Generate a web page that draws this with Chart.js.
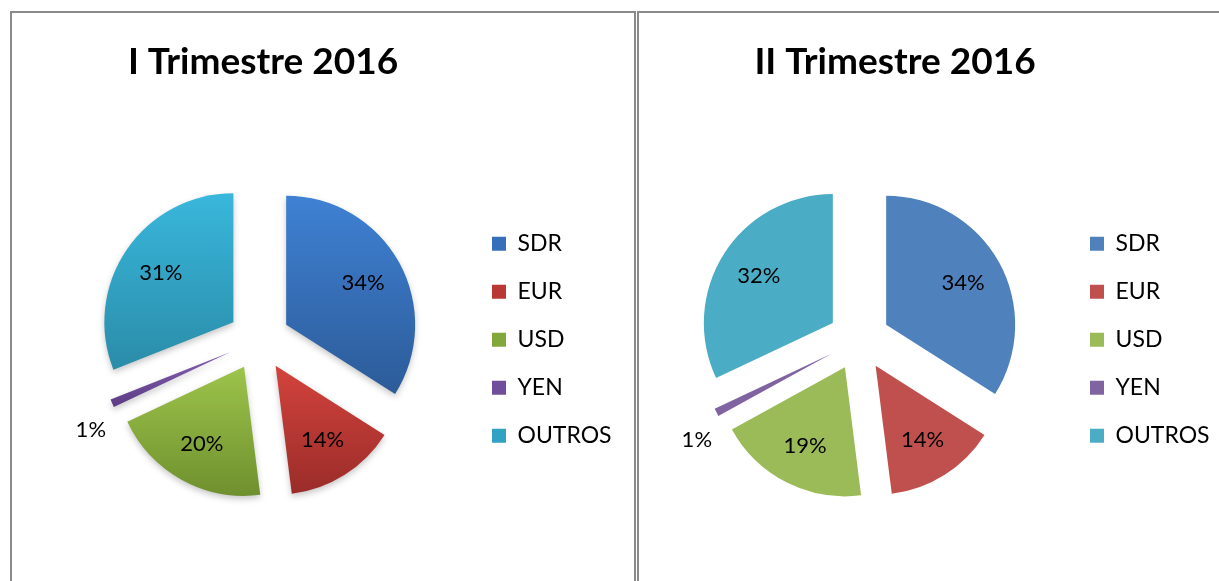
<!DOCTYPE html>
<html>
<head>
<meta charset="utf-8">
<script src="https://cdn.jsdelivr.net/npm/chart.js@4.4.1/dist/chart.umd.min.js"></script>
<style>
  html, body { margin: 0; padding: 0; background: #fff; overflow: hidden; width: 1219px; height: 581px; }
  .panel { position: absolute; top: 11px; border: 2px solid #8a8a8a; border-bottom: none; height: 600px; }
  #p1 { left: 10px; width: 622px; }
  #p2 { left: 637px; width: 700px; }
  canvas { position: absolute; }
  #c1 { left: 12px; top: 13px; }
  #c2 { left: 639px; top: 13px; }
</style>
</head>
<body>
<div class="panel" id="p1"></div>
<div class="panel" id="p2"></div>
<canvas id="c1" width="622" height="568"></canvas>
<canvas id="c2" width="580" height="568"></canvas>
<script>
// ---- data ----
const categories = ['SDR', 'EUR', 'USD', 'YEN', 'OUTROS'];
const q1Values = [34, 14, 20, 1, 31];
const q2Values = [34, 14, 19, 1, 32];
const chartTitles = ['I Trimestre 2016', 'II Trimestre 2016'];

// ---- styles ----
const flatColors = ['#4F81BD', '#C0504D', '#9BBB59', '#8064A2', '#4BACC6'];
const gradColors = [
  ['#3F81D4', '#2C5B98'],
  ['#D4433D', '#9A2C29'],
  ['#9DC44B', '#6F902E'],
  ['#8562B0', '#5C3B85'],
  ['#39B7DC', '#2A8CA8']
];
const gradMid = ['#3670BA', '#B93833', '#82A83C', '#714E9C', '#31A2C3'];

const LEGEND_FONT = 23, LEGEND_BOX = 14, LEGEND_PAD = 25;

const explodePlugin = {
  id: 'explode',
  beforeDatasetDraw(chart, args, opts) {
    const ctx = chart.ctx;
    const d = opts.distance || 0;
    args.meta.data.forEach((arc, i) => {
      const p = arc.getProps(['x', 'y', 'startAngle', 'endAngle', 'outerRadius'], true);
      const mid = (p.startAngle + p.endAngle) / 2;
      ctx.save();
      ctx.translate(Math.cos(mid) * d, Math.sin(mid) * d);
      const saved = arc.options;
      if (opts.gradients) {
        const ys = [p.y, p.y + Math.sin(p.startAngle) * p.outerRadius, p.y + Math.sin(p.endAngle) * p.outerRadius];
        for (const a of [-Math.PI / 2, Math.PI / 2, 3 * Math.PI / 2]) {
          if (a > p.startAngle && a < p.endAngle) ys.push(p.y + Math.sin(a) * p.outerRadius);
        }
        const top = Math.min(...ys), bot = Math.max(...ys);
        const g = ctx.createLinearGradient(0, top, 0, bot);
        g.addColorStop(0, opts.gradients[i][0]);
        g.addColorStop(1, opts.gradients[i][1]);
        arc.options = Object.assign({}, saved, { backgroundColor: g });
      }
      if (opts.shadow) {
        ctx.shadowColor = 'rgba(0,0,0,0.22)';
        ctx.shadowBlur = 6;
        ctx.shadowOffsetY = 3;
      }
      arc.draw(ctx);
      arc.options = saved;
      ctx.restore();
    });
    return false;
  },
  afterDatasetsDraw(chart, args, opts) {
    const ctx = chart.ctx;
    const d = opts.distance || 0;
    const meta = chart.getDatasetMeta(0);
    const vals = chart.data.datasets[0].data;
    const total = vals.reduce((a, b) => a + b, 0);
    ctx.save();
    ctx.font = '22px Lato';
    ctx.fillStyle = '#000';
    ctx.textAlign = 'center';
    ctx.textBaseline = 'middle';
    meta.data.forEach((arc, i) => {
      const p = arc.getProps(['x', 'y', 'startAngle', 'endAngle', 'outerRadius'], true);
      const mid = (p.startAngle + p.endAngle) / 2;
      const ax = p.x + Math.cos(mid) * d, ay = p.y + Math.sin(mid) * d;
      const pct = Math.round(vals[i] / total * 100);
      let lx, ly;
      if (pct >= 3) {
        lx = ax + Math.cos(mid) * p.outerRadius * 0.68;
        ly = ay + Math.sin(mid) * p.outerRadius * 0.68;
      } else {
        const a = mid - 0.1;
        lx = ax + Math.cos(a) * p.outerRadius * 1.24;
        ly = ay + Math.sin(a) * p.outerRadius * 1.24;
      }
      ctx.fillText(pct + '%', lx, ly);
    });
    ctx.restore();
  }
};

// invisible left layout box that shifts the plot area (pie) relative to the title
function makeSpacer(width) {
  return {
    id: 'spacer',
    beforeInit(chart) {
      const box = {
        position: 'left', weight: 5000, fullSize: false,
        options: { display: true },
        left: 0, top: 0, right: 0, bottom: 0, width: 0, height: 0,
        isHorizontal() { return false; },
        update(maxWidth, maxHeight) { this.width = width; this.height = maxHeight; },
        draw() {}
      };
      Chart.layouts.addBox(chart, box);
    }
  };
}

// legend width as Chart.js computes it
const mctx = document.createElement('canvas').getContext('2d');
mctx.font = LEGEND_FONT + 'px Lato';
const maxText = Math.max(...categories.map(c => mctx.measureText(c).width));
const legendW = LEGEND_PAD + LEGEND_BOX + LEGEND_FONT / 2 + maxText + 10;

function makePie(id, title, values, cfg) {
  const W = document.getElementById(id).width;
  const legendLeft = cfg.boxX - LEGEND_PAD;
  const chartLeft = 2 * cfg.pieCx - legendLeft;
  const rightEdge = legendLeft + legendW;
  const padR = W - rightEdge;
  const padL = 2 * cfg.titleCx - rightEdge;
  const spacer = chartLeft - padL;
  return new Chart(document.getElementById(id), {
    type: 'pie',
    data: {
      labels: categories,
      datasets: [{
        data: values,
        backgroundColor: cfg.colors,
        borderWidth: 0,
        offset: 0,
        hoverOffset: 0
      }]
    },
    options: {
      responsive: false,
      devicePixelRatio: 1,
      animation: false,
      events: [],
      radius: 129,
      layout: { padding: { left: padL, right: padR, top: 0, bottom: 6 } },
      plugins: {
        title: {
          display: true,
          text: title,
          color: '#000',
          fullSize: true,
          font: { family: 'Lato', size: 37, weight: 'bold' },
          padding: { top: 27, bottom: 20 }
        },
        legend: {
          position: 'right',
          fullSize: false,
          labels: {
            boxWidth: LEGEND_BOX,
            boxHeight: LEGEND_BOX,
            padding: LEGEND_PAD,
            color: '#000',
            textAlign: 'left',
            font: { family: 'Lato', size: LEGEND_FONT }
          }
        },
        tooltip: { enabled: false },
        explode: { distance: 31, gradients: cfg.gradients, shadow: cfg.shadow }
      }
    },
    plugins: [explodePlugin, makeSpacer(spacer)]
  });
}

makePie('c1', chartTitles[0], q1Values, { colors: gradMid, gradients: gradColors, shadow: true, pieCx: 247, boxX: 480, titleCx: 251 });
makePie('c2', chartTitles[1], q2Values, { colors: flatColors, gradients: null, shadow: false, pieCx: 220, boxX: 451, titleCx: 256 });
</script>
</body>
</html>
